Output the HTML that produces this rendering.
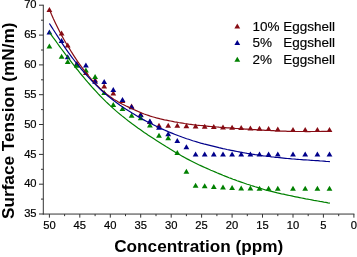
<!DOCTYPE html>
<html lang="en"><head><meta charset="utf-8"><title>Surface tension vs concentration</title>
<style>html,body{margin:0;padding:0;background:#fff}svg{display:block}</style></head>
<body>
<svg width="357" height="257" viewBox="0 0 357 257" style="display:block">
<rect width="357" height="257" fill="#fff"/>
<g stroke="#333" stroke-width="1" fill="none">
<path d="M43.3,4.75 V214.55"/>
<path d="M42.8,214.05 H354.4"/>
<path d="M39.0,214.0 H43.3"/>
<path d="M39.0,184.2 H43.3"/>
<path d="M39.0,154.4 H43.3"/>
<path d="M39.0,124.5 H43.3"/>
<path d="M39.0,94.7 H43.3"/>
<path d="M39.0,64.9 H43.3"/>
<path d="M39.0,35.1 H43.3"/>
<path d="M39.0,5.2 H43.3"/>
<path d="M41.0,199.1 H43.3"/>
<path d="M41.0,169.3 H43.3"/>
<path d="M41.0,139.5 H43.3"/>
<path d="M41.0,109.6 H43.3"/>
<path d="M41.0,79.8 H43.3"/>
<path d="M41.0,50.0 H43.3"/>
<path d="M41.0,20.2 H43.3"/>
<path d="M353.9,214.05 V217.65"/>
<path d="M323.4,214.05 V217.65"/>
<path d="M293.0,214.05 V217.65"/>
<path d="M262.5,214.05 V217.65"/>
<path d="M232.1,214.05 V217.65"/>
<path d="M201.6,214.05 V217.65"/>
<path d="M171.2,214.05 V217.65"/>
<path d="M140.7,214.05 V217.65"/>
<path d="M110.3,214.05 V217.65"/>
<path d="M79.8,214.05 V217.65"/>
<path d="M49.4,214.05 V217.65"/>
<path d="M338.7,214.05 V216.15"/>
<path d="M308.2,214.05 V216.15"/>
<path d="M277.8,214.05 V216.15"/>
<path d="M247.3,214.05 V216.15"/>
<path d="M216.9,214.05 V216.15"/>
<path d="M186.4,214.05 V216.15"/>
<path d="M156.0,214.05 V216.15"/>
<path d="M125.5,214.05 V216.15"/>
<path d="M95.1,214.05 V216.15"/>
<path d="M64.6,214.05 V216.15"/>
</g>
<g font-family="'Liberation Sans', sans-serif" font-size="11.2" fill="#000" stroke="#000" stroke-width="0.2">
<text x="36.6" y="217.1" text-anchor="end">35</text>
<text x="36.6" y="187.3" text-anchor="end">40</text>
<text x="36.6" y="157.5" text-anchor="end">45</text>
<text x="36.6" y="127.6" text-anchor="end">50</text>
<text x="36.6" y="97.8" text-anchor="end">55</text>
<text x="36.6" y="68.0" text-anchor="end">60</text>
<text x="36.6" y="38.2" text-anchor="end">65</text>
<text x="36.6" y="8.3" text-anchor="end">70</text>
<text x="353.9" y="228.5" text-anchor="middle">0</text>
<text x="323.4" y="228.5" text-anchor="middle">5</text>
<text x="293.0" y="228.5" text-anchor="middle">10</text>
<text x="262.5" y="228.5" text-anchor="middle">15</text>
<text x="232.1" y="228.5" text-anchor="middle">20</text>
<text x="201.6" y="228.5" text-anchor="middle">25</text>
<text x="171.2" y="228.5" text-anchor="middle">30</text>
<text x="140.7" y="228.5" text-anchor="middle">35</text>
<text x="110.3" y="228.5" text-anchor="middle">40</text>
<text x="79.8" y="228.5" text-anchor="middle">45</text>
<text x="49.4" y="228.5" text-anchor="middle">50</text>
</g>
<g>
<path d="M49.4,7.1 L52.3,12.1 L46.5,12.1Z" fill="#870c14" stroke="none"/>
<path d="M61.6,30.4 L64.5,35.4 L58.7,35.4Z" fill="#870c14" stroke="none"/>
<path d="M67.7,42.5 L70.6,47.5 L64.8,47.5Z" fill="#870c14" stroke="none"/>
<path d="M76.8,61.0 L79.7,66.0 L73.9,66.0Z" fill="#870c14" stroke="none"/>
<path d="M85.9,70.1 L88.8,75.1 L83.0,75.1Z" fill="#870c14" stroke="none"/>
<path d="M95.1,77.3 L98.0,82.3 L92.2,82.3Z" fill="#870c14" stroke="none"/>
<path d="M104.2,83.5 L107.1,88.5 L101.3,88.5Z" fill="#870c14" stroke="none"/>
<path d="M113.3,90.4 L116.2,95.4 L110.4,95.4Z" fill="#870c14" stroke="none"/>
<path d="M122.5,98.0 L125.4,103.0 L119.6,103.0Z" fill="#870c14" stroke="none"/>
<path d="M131.6,103.5 L134.5,108.5 L128.7,108.5Z" fill="#870c14" stroke="none"/>
<path d="M140.7,111.7 L143.6,116.7 L137.8,116.7Z" fill="#870c14" stroke="none"/>
<path d="M149.9,119.0 L152.8,124.0 L147.0,124.0Z" fill="#870c14" stroke="none"/>
<path d="M159.0,122.8 L161.9,127.8 L156.1,127.8Z" fill="#870c14" stroke="none"/>
<path d="M168.2,122.8 L171.1,127.8 L165.3,127.8Z" fill="#870c14" stroke="none"/>
<path d="M177.3,122.8 L180.2,127.8 L174.4,127.8Z" fill="#870c14" stroke="none"/>
<path d="M186.4,123.2 L189.3,128.2 L183.5,128.2Z" fill="#870c14" stroke="none"/>
<path d="M195.6,123.4 L198.5,128.4 L192.7,128.4Z" fill="#870c14" stroke="none"/>
<path d="M204.7,123.7 L207.6,128.7 L201.8,128.7Z" fill="#870c14" stroke="none"/>
<path d="M213.8,124.1 L216.7,129.1 L210.9,129.1Z" fill="#870c14" stroke="none"/>
<path d="M223.0,124.4 L225.9,129.4 L220.1,129.4Z" fill="#870c14" stroke="none"/>
<path d="M232.1,124.8 L235.0,129.8 L229.2,129.8Z" fill="#870c14" stroke="none"/>
<path d="M241.2,125.1 L244.1,130.1 L238.3,130.1Z" fill="#870c14" stroke="none"/>
<path d="M250.4,125.5 L253.3,130.5 L247.5,130.5Z" fill="#870c14" stroke="none"/>
<path d="M259.5,125.8 L262.4,130.8 L256.6,130.8Z" fill="#870c14" stroke="none"/>
<path d="M268.6,126.1 L271.5,131.1 L265.7,131.1Z" fill="#870c14" stroke="none"/>
<path d="M277.8,126.5 L280.7,131.5 L274.9,131.5Z" fill="#870c14" stroke="none"/>
<path d="M293.0,127.0 L295.9,132.0 L290.1,132.0Z" fill="#870c14" stroke="none"/>
<path d="M305.2,127.0 L308.1,132.0 L302.3,132.0Z" fill="#870c14" stroke="none"/>
<path d="M317.4,127.0 L320.3,132.0 L314.5,132.0Z" fill="#870c14" stroke="none"/>
<path d="M329.5,127.0 L332.4,132.0 L326.6,132.0Z" fill="#870c14" stroke="none"/>
</g>
<g>
<path d="M49.4,29.4 L52.3,34.4 L46.5,34.4Z" fill="#00008b" stroke="none"/>
<path d="M61.6,38.1 L64.5,43.1 L58.7,43.1Z" fill="#00008b" stroke="none"/>
<path d="M67.7,54.2 L70.6,59.2 L64.8,59.2Z" fill="#00008b" stroke="none"/>
<path d="M76.8,61.5 L79.7,66.5 L73.9,66.5Z" fill="#00008b" stroke="none"/>
<path d="M85.9,62.5 L88.8,67.5 L83.0,67.5Z" fill="#00008b" stroke="none"/>
<path d="M95.1,78.7 L98.0,83.7 L92.2,83.7Z" fill="#00008b" stroke="none"/>
<path d="M104.2,79.0 L107.1,84.0 L101.3,84.0Z" fill="#00008b" stroke="none"/>
<path d="M113.3,87.0 L116.2,92.0 L110.4,92.0Z" fill="#00008b" stroke="none"/>
<path d="M122.5,96.9 L125.4,101.9 L119.6,101.9Z" fill="#00008b" stroke="none"/>
<path d="M131.6,104.3 L134.5,109.3 L128.7,109.3Z" fill="#00008b" stroke="none"/>
<path d="M140.7,112.3 L143.6,117.3 L137.8,117.3Z" fill="#00008b" stroke="none"/>
<path d="M149.9,118.4 L152.8,123.4 L147.0,123.4Z" fill="#00008b" stroke="none"/>
<path d="M159.0,124.7 L161.9,129.7 L156.1,129.7Z" fill="#00008b" stroke="none"/>
<path d="M168.2,131.3 L171.1,136.3 L165.3,136.3Z" fill="#00008b" stroke="none"/>
<path d="M177.3,137.9 L180.2,142.9 L174.4,142.9Z" fill="#00008b" stroke="none"/>
<path d="M186.4,144.2 L189.3,149.2 L183.5,149.2Z" fill="#00008b" stroke="none"/>
<path d="M195.6,151.4 L198.5,156.4 L192.7,156.4Z" fill="#00008b" stroke="none"/>
<path d="M204.7,151.4 L207.6,156.4 L201.8,156.4Z" fill="#00008b" stroke="none"/>
<path d="M213.8,151.4 L216.7,156.4 L210.9,156.4Z" fill="#00008b" stroke="none"/>
<path d="M223.0,151.4 L225.9,156.4 L220.1,156.4Z" fill="#00008b" stroke="none"/>
<path d="M232.1,151.4 L235.0,156.4 L229.2,156.4Z" fill="#00008b" stroke="none"/>
<path d="M241.2,151.4 L244.1,156.4 L238.3,156.4Z" fill="#00008b" stroke="none"/>
<path d="M250.4,151.4 L253.3,156.4 L247.5,156.4Z" fill="#00008b" stroke="none"/>
<path d="M259.5,151.4 L262.4,156.4 L256.6,156.4Z" fill="#00008b" stroke="none"/>
<path d="M268.6,151.4 L271.5,156.4 L265.7,156.4Z" fill="#00008b" stroke="none"/>
<path d="M277.8,151.4 L280.7,156.4 L274.9,156.4Z" fill="#00008b" stroke="none"/>
<path d="M293.0,151.4 L295.9,156.4 L290.1,156.4Z" fill="#00008b" stroke="none"/>
<path d="M305.2,151.4 L308.1,156.4 L302.3,156.4Z" fill="#00008b" stroke="none"/>
<path d="M317.4,151.4 L320.3,156.4 L314.5,156.4Z" fill="#00008b" stroke="none"/>
<path d="M329.5,151.4 L332.4,156.4 L326.6,156.4Z" fill="#00008b" stroke="none"/>
</g>
<g>
<path d="M49.4,43.5 L52.3,48.5 L46.5,48.5Z" fill="#008000" stroke="none"/>
<path d="M61.6,53.8 L64.5,58.8 L58.7,58.8Z" fill="#008000" stroke="none"/>
<path d="M67.7,59.0 L70.6,64.0 L64.8,64.0Z" fill="#008000" stroke="none"/>
<path d="M76.8,62.7 L79.7,67.7 L73.9,67.7Z" fill="#008000" stroke="none"/>
<path d="M85.9,67.4 L88.8,72.4 L83.0,72.4Z" fill="#008000" stroke="none"/>
<path d="M95.1,73.9 L98.0,78.9 L92.2,78.9Z" fill="#008000" stroke="none"/>
<path d="M104.2,90.1 L107.1,95.1 L101.3,95.1Z" fill="#008000" stroke="none"/>
<path d="M113.3,101.9 L116.2,106.9 L110.4,106.9Z" fill="#008000" stroke="none"/>
<path d="M122.5,106.0 L125.4,111.0 L119.6,111.0Z" fill="#008000" stroke="none"/>
<path d="M131.6,112.7 L134.5,117.7 L128.7,117.7Z" fill="#008000" stroke="none"/>
<path d="M140.7,115.2 L143.6,120.2 L137.8,120.2Z" fill="#008000" stroke="none"/>
<path d="M149.9,122.6 L152.8,127.6 L147.0,127.6Z" fill="#008000" stroke="none"/>
<path d="M159.0,132.8 L161.9,137.8 L156.1,137.8Z" fill="#008000" stroke="none"/>
<path d="M168.2,135.2 L171.1,140.2 L165.3,140.2Z" fill="#008000" stroke="none"/>
<path d="M177.3,149.9 L180.2,154.9 L174.4,154.9Z" fill="#008000" stroke="none"/>
<path d="M186.4,168.8 L189.3,173.8 L183.5,173.8Z" fill="#008000" stroke="none"/>
<path d="M195.6,182.8 L198.5,187.8 L192.7,187.8Z" fill="#008000" stroke="none"/>
<path d="M204.7,183.3 L207.6,188.3 L201.8,188.3Z" fill="#008000" stroke="none"/>
<path d="M213.8,184.1 L216.7,189.1 L210.9,189.1Z" fill="#008000" stroke="none"/>
<path d="M223.0,184.5 L225.9,189.5 L220.1,189.5Z" fill="#008000" stroke="none"/>
<path d="M232.1,185.0 L235.0,190.0 L229.2,190.0Z" fill="#008000" stroke="none"/>
<path d="M241.2,185.4 L244.1,190.4 L238.3,190.4Z" fill="#008000" stroke="none"/>
<path d="M250.4,185.5 L253.3,190.5 L247.5,190.5Z" fill="#008000" stroke="none"/>
<path d="M259.5,185.8 L262.4,190.8 L256.6,190.8Z" fill="#008000" stroke="none"/>
<path d="M268.6,185.8 L271.5,190.8 L265.7,190.8Z" fill="#008000" stroke="none"/>
<path d="M277.8,185.8 L280.7,190.8 L274.9,190.8Z" fill="#008000" stroke="none"/>
<path d="M293.0,185.8 L295.9,190.8 L290.1,190.8Z" fill="#008000" stroke="none"/>
<path d="M305.2,185.8 L308.1,190.8 L302.3,190.8Z" fill="#008000" stroke="none"/>
<path d="M317.4,185.8 L320.3,190.8 L314.5,190.8Z" fill="#008000" stroke="none"/>
<path d="M329.5,185.8 L332.4,190.8 L326.6,190.8Z" fill="#008000" stroke="none"/>
</g>
<path d="M49.4,9.3 L51.4,14.2 L53.4,18.8 L55.5,23.2 L57.5,27.3 L59.5,31.3 L61.5,35.1 L63.5,38.7 L65.5,42.2 L67.6,45.6 L69.6,48.9 L71.6,52.2 L73.6,55.3 L75.6,58.4 L77.7,61.5 L79.7,64.4 L81.7,67.2 L83.7,69.9 L85.7,72.5 L87.7,75.0 L89.8,77.4 L91.8,79.8 L93.8,82.0 L95.8,84.2 L97.8,86.2 L99.8,88.2 L101.9,90.1 L103.9,91.8 L105.9,93.5 L107.9,95.1 L109.9,96.6 L112.0,98.0 L114.0,99.4 L116.0,100.6 L118.0,101.8 L120.0,102.9 L122.0,104.0 L124.1,105.0 L126.1,106.0 L128.1,106.9 L130.1,107.9 L132.1,108.8 L134.2,109.7 L136.2,110.6 L138.2,111.5 L140.2,112.4 L142.2,113.2 L144.2,114.0 L146.3,114.7 L148.3,115.4 L150.3,116.1 L152.3,116.7 L154.3,117.3 L156.4,117.9 L158.4,118.4 L160.4,118.9 L162.4,119.3 L164.4,119.8 L166.4,120.2 L168.5,120.6 L170.5,121.0 L172.5,121.4 L174.5,121.8 L176.5,122.1 L178.6,122.5 L180.6,122.8 L182.6,123.1 L184.6,123.5 L186.6,123.8 L188.6,124.1 L190.7,124.3 L192.7,124.6 L194.7,124.8 L196.7,125.1 L198.7,125.3 L200.7,125.5 L202.8,125.7 L204.8,125.9 L206.8,126.1 L208.8,126.3 L210.8,126.5 L212.9,126.6 L214.9,126.8 L216.9,127.0 L218.9,127.2 L220.9,127.3 L222.9,127.5 L225.0,127.6 L227.0,127.8 L229.0,127.9 L231.0,128.1 L233.0,128.2 L235.1,128.4 L237.1,128.5 L239.1,128.7 L241.1,128.8 L243.1,128.9 L245.1,129.1 L247.2,129.2 L249.2,129.3 L251.2,129.4 L253.2,129.6 L255.2,129.7 L257.3,129.8 L259.3,130.0 L261.3,130.1 L263.3,130.2 L265.3,130.3 L267.3,130.4 L269.4,130.5 L271.4,130.6 L273.4,130.7 L275.4,130.8 L277.4,130.9 L279.5,131.0 L281.5,131.1 L283.5,131.2 L285.5,131.2 L287.5,131.3 L289.5,131.3 L291.6,131.4 L293.6,131.4 L295.6,131.5 L297.6,131.5 L299.6,131.5 L301.6,131.5 L303.7,131.5 L305.7,131.6 L307.7,131.6 L309.7,131.6 L311.7,131.5 L313.8,131.5 L315.8,131.5 L317.8,131.5 L319.8,131.5 L321.8,131.4 L323.8,131.4 L325.9,131.3 L327.9,131.3 L329.9,131.2" fill="none" stroke="#870c14" stroke-width="1.2"/>
<path d="M49.4,23.5 L51.4,26.6 L53.4,29.8 L55.5,33.0 L57.5,36.1 L59.5,39.3 L61.5,42.4 L63.5,45.4 L65.5,48.4 L67.6,51.3 L69.6,54.1 L71.6,56.9 L73.6,59.5 L75.6,62.1 L77.7,64.6 L79.7,67.0 L81.7,69.5 L83.7,71.8 L85.7,74.1 L87.7,76.4 L89.8,78.6 L91.8,80.8 L93.8,82.9 L95.8,84.9 L97.8,86.9 L99.8,88.9 L101.9,90.7 L103.9,92.5 L105.9,94.3 L107.9,96.0 L109.9,97.6 L112.0,99.2 L114.0,100.8 L116.0,102.3 L118.0,103.7 L120.0,105.2 L122.0,106.6 L124.1,107.9 L126.1,109.3 L128.1,110.6 L130.1,111.8 L132.1,113.1 L134.2,114.3 L136.2,115.5 L138.2,116.7 L140.2,117.8 L142.2,119.0 L144.2,120.1 L146.3,121.2 L148.3,122.3 L150.3,123.3 L152.3,124.3 L154.3,125.3 L156.4,126.3 L158.4,127.3 L160.4,128.2 L162.4,129.1 L164.4,130.0 L166.4,130.9 L168.5,131.8 L170.5,132.6 L172.5,133.4 L174.5,134.2 L176.5,135.0 L178.6,135.8 L180.6,136.5 L182.6,137.3 L184.6,138.0 L186.6,138.7 L188.6,139.3 L190.7,140.0 L192.7,140.7 L194.7,141.3 L196.7,141.9 L198.7,142.5 L200.7,143.1 L202.8,143.6 L204.8,144.2 L206.8,144.7 L208.8,145.2 L210.8,145.7 L212.9,146.2 L214.9,146.7 L216.9,147.2 L218.9,147.7 L220.9,148.1 L222.9,148.6 L225.0,149.0 L227.0,149.5 L229.0,149.9 L231.0,150.3 L233.0,150.7 L235.1,151.1 L237.1,151.5 L239.1,151.9 L241.1,152.3 L243.1,152.7 L245.1,153.0 L247.2,153.4 L249.2,153.7 L251.2,154.0 L253.2,154.3 L255.2,154.7 L257.3,154.9 L259.3,155.2 L261.3,155.5 L263.3,155.8 L265.3,156.0 L267.3,156.3 L269.4,156.5 L271.4,156.8 L273.4,157.0 L275.4,157.3 L277.4,157.5 L279.5,157.7 L281.5,157.9 L283.5,158.1 L285.5,158.3 L287.5,158.5 L289.5,158.7 L291.6,158.9 L293.6,159.0 L295.6,159.2 L297.6,159.3 L299.6,159.5 L301.6,159.6 L303.7,159.8 L305.7,159.9 L307.7,160.0 L309.7,160.2 L311.7,160.3 L313.8,160.5 L315.8,160.6 L317.8,160.7 L319.8,160.9 L321.8,161.0 L323.8,161.2 L325.9,161.4 L327.9,161.5 L329.9,161.7" fill="none" stroke="#00008b" stroke-width="1.2"/>
<path d="M49.4,32.2 L51.4,35.1 L53.4,37.9 L55.5,40.7 L57.5,43.5 L59.5,46.3 L61.5,49.0 L63.5,51.7 L65.5,54.4 L67.6,57.1 L69.6,59.7 L71.6,62.3 L73.6,64.9 L75.6,67.5 L77.7,70.0 L79.7,72.6 L81.7,75.0 L83.7,77.4 L85.7,79.8 L87.7,82.2 L89.8,84.5 L91.8,86.8 L93.8,89.0 L95.8,91.2 L97.8,93.4 L99.8,95.5 L101.9,97.6 L103.9,99.6 L105.9,101.6 L107.9,103.5 L109.9,105.4 L112.0,107.3 L114.0,109.1 L116.0,110.9 L118.0,112.6 L120.0,114.3 L122.0,115.9 L124.1,117.5 L126.1,119.1 L128.1,120.7 L130.1,122.2 L132.1,123.7 L134.2,125.2 L136.2,126.7 L138.2,128.2 L140.2,129.6 L142.2,131.0 L144.2,132.4 L146.3,133.8 L148.3,135.2 L150.3,136.5 L152.3,137.8 L154.3,139.1 L156.4,140.4 L158.4,141.7 L160.4,143.0 L162.4,144.3 L164.4,145.5 L166.4,146.8 L168.5,148.0 L170.5,149.3 L172.5,150.5 L174.5,151.7 L176.5,152.9 L178.6,154.1 L180.6,155.2 L182.6,156.4 L184.6,157.5 L186.6,158.6 L188.6,159.6 L190.7,160.7 L192.7,161.7 L194.7,162.7 L196.7,163.7 L198.7,164.7 L200.7,165.6 L202.8,166.6 L204.8,167.5 L206.8,168.4 L208.8,169.3 L210.8,170.2 L212.9,171.0 L214.9,171.9 L216.9,172.8 L218.9,173.6 L220.9,174.4 L222.9,175.3 L225.0,176.1 L227.0,176.9 L229.0,177.7 L231.0,178.4 L233.0,179.2 L235.1,179.9 L237.1,180.7 L239.1,181.4 L241.1,182.1 L243.1,182.8 L245.1,183.5 L247.2,184.2 L249.2,184.8 L251.2,185.5 L253.2,186.1 L255.2,186.8 L257.3,187.4 L259.3,188.0 L261.3,188.6 L263.3,189.2 L265.3,189.8 L267.3,190.3 L269.4,190.9 L271.4,191.4 L273.4,191.9 L275.4,192.4 L277.4,192.9 L279.5,193.3 L281.5,193.8 L283.5,194.2 L285.5,194.7 L287.5,195.1 L289.5,195.5 L291.6,195.9 L293.6,196.4 L295.6,196.8 L297.6,197.2 L299.6,197.6 L301.6,198.0 L303.7,198.4 L305.7,198.8 L307.7,199.1 L309.7,199.5 L311.7,199.9 L313.8,200.3 L315.8,200.6 L317.8,201.0 L319.8,201.4 L321.8,201.7 L323.8,202.1 L325.9,202.4 L327.9,202.8 L329.9,203.1" fill="none" stroke="#008000" stroke-width="1.2"/>
<g font-family="'Liberation Sans', sans-serif" font-size="13.5" fill="#000" stroke="#000" stroke-width="0.15">
<path d="M237.3,23.5 L240.2,28.5 L234.4,28.5Z" fill="#870c14" stroke="none"/>
<text x="252.6" y="30.5">10%</text>
<text x="283.2" y="30.5">Eggshell</text>
<path d="M237.3,40.1 L240.2,45.1 L234.4,45.1Z" fill="#00008b" stroke="none"/>
<text x="252.6" y="47.1">5%</text>
<text x="283.2" y="47.1">Eggshell</text>
<path d="M237.3,56.7 L240.2,61.7 L234.4,61.7Z" fill="#008000" stroke="none"/>
<text x="252.6" y="63.7">2%</text>
<text x="283.2" y="63.7">Eggshell</text>
</g>
<g font-family="'Liberation Sans', sans-serif" font-size="17.2" font-weight="bold" fill="#000">
<text x="114.2" y="252">Concentration (ppm)</text>
<text transform="translate(13.6,219) rotate(-90)">Surface Tension (mN/m)</text>
</g>
</svg>
</body></html>
